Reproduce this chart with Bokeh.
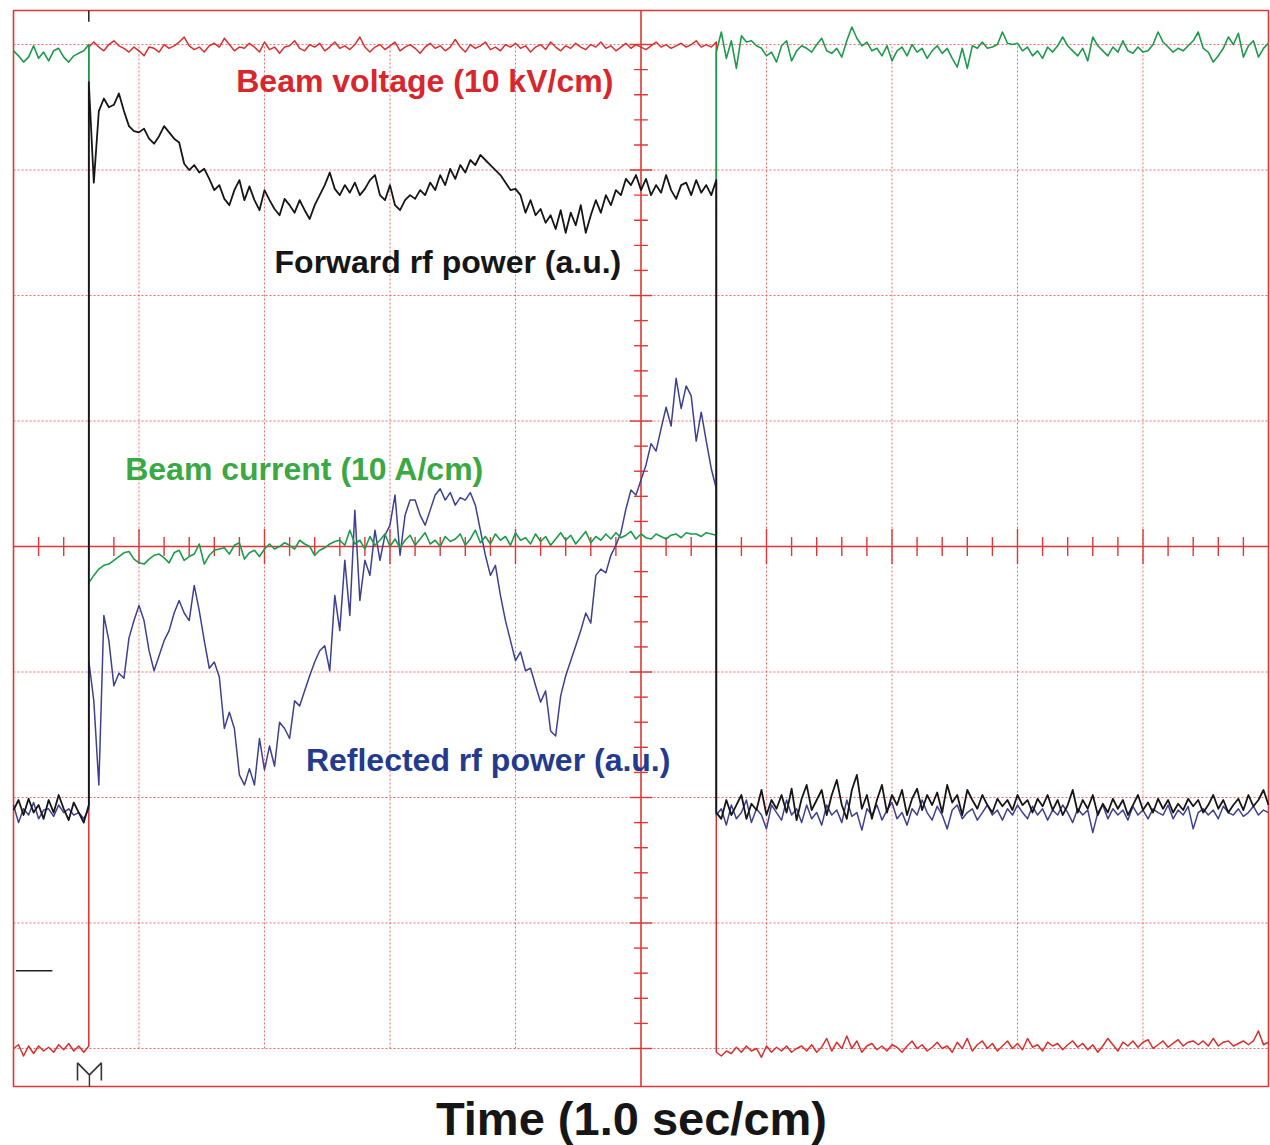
import numpy as np
from bokeh.plotting import figure
from bokeh.models import Range1d, Label
from bokeh.embed import file_html
from bokeh.resources import INLINE

# ---------------- data (time in s = cm, amplitude in screen divisions = cm) ----------------
DT = 0.04          # sampling step of the traces (s)
T_START = 0.0
T_ON = 0.60        # pulse start (s)
T_OFF = 5.60       # pulse end (s)

# Beam voltage (red)
voltage_pre = [0.00, 0.03, -0.06, 0.02, -0.04, 0.02, -0.02, 0.01, -0.03, 0.03, -0.01, 0.04, -0.02, 0.02, -0.03, 0.02]
voltage_pulse = [
    7.98, 8.02, 7.98, 7.95, 8.00, 8.03, 7.99, 7.97, 7.94, 7.98,
    7.95, 7.91, 7.98, 7.97, 7.94, 8.00, 7.97, 7.99, 8.02, 8.06,
    7.99, 7.96, 7.98, 7.94, 7.99, 8.01, 7.98, 8.05, 8.00, 7.95,
    7.98, 7.97, 8.01, 7.98, 7.94, 8.02, 7.96, 7.98, 7.93, 7.98,
    7.99, 8.03, 7.97, 7.95, 8.00, 7.98, 8.01, 7.95, 7.98, 8.02,
    7.97, 7.99, 7.96, 8.00, 8.06, 7.98, 7.94, 7.98, 8.00, 7.96,
    7.99, 8.02, 7.95, 7.98, 8.00, 7.97, 7.93, 7.98, 8.01, 7.97,
    7.99, 7.95, 7.98, 8.04, 7.98, 7.94, 8.00, 7.97, 7.99, 8.02,
    7.96, 7.98, 7.95, 8.00, 7.98, 8.01, 7.97, 7.99, 7.94, 7.98,
    8.00, 7.96, 8.02, 7.98, 7.95, 7.99, 7.97, 8.01, 7.98, 7.96,
    8.00, 7.98, 8.02, 7.97, 7.99, 7.95, 7.98, 8.01, 7.97, 8.00,
    7.98, 7.96, 7.99, 8.02, 7.98, 8.00, 7.97, 7.99, 8.01, 7.98,
    8.00, 8.03, 7.98, 8.00, 7.98, 8.02]
voltage_post = [
    -0.03, -0.06, -0.02, -0.04, 0.01, -0.03, 0.02, -0.02, 0.00, -0.07,
    0.02, -0.03, 0.01, -0.02, 0.02, -0.03, 0.00, 0.02, -0.02, 0.03,
    -0.03, 0.01, 0.08, -0.02, 0.05, 0.00, 0.10, 0.00, 0.06, -0.03,
    0.02, 0.04, -0.01, 0.02, -0.02, 0.03, 0.01, -0.03, 0.02, 0.06,
    0.00, 0.03, -0.02, 0.01, 0.05, 0.00, 0.02, -0.03, 0.05, 0.00,
    0.08, -0.02, 0.03, 0.06, 0.00, 0.04, -0.02, 0.02, 0.06, 0.00,
    0.04, -0.01, 0.08, 0.01, 0.03, -0.02, 0.05, 0.02, 0.04, -0.01,
    0.03, 0.06, 0.01, 0.04, -0.01, 0.03, -0.03, 0.02, 0.08, 0.03,
    -0.02, 0.05, 0.02, 0.06, 0.01, 0.05, 0.07, 0.00, 0.03, 0.06,
    0.01, 0.04, 0.07, 0.02, 0.05, 0.06, 0.03, 0.06, 0.02, 0.08,
    0.02, 0.05, 0.06, 0.02, 0.04, 0.06, 0.03, 0.06, 0.14, 0.03,
    0.05]

# Beam current (green)
current_pre = [7.95, 7.91, 7.86, 7.90, 7.99, 7.89, 7.94, 7.87, 7.95, 7.97, 7.90, 7.86, 7.91, 7.93, 7.95, 8.00]
current_pulse = [
    3.71, 3.77, 3.82, 3.85, 3.86, 3.89, 3.92, 3.95, 3.96, 3.90,
    3.87, 3.86, 3.90, 3.93, 3.94, 3.91, 3.87, 3.95, 3.97, 3.89,
    3.92, 3.94, 4.02, 3.86, 3.93, 3.97, 3.98, 3.99, 3.94, 4.01,
    4.03, 3.90, 3.95, 3.97, 3.92, 3.98, 4.02, 3.98, 4.00, 4.03,
    4.01, 3.98, 4.05, 4.02, 4.00, 3.93, 3.97, 3.99, 4.02, 4.04,
    4.05, 4.01, 4.13, 4.02, 4.05, 3.98, 4.08, 4.01, 4.05, 4.10,
    4.00, 4.06, 3.99, 4.05, 4.09, 4.01, 4.06, 4.11, 4.02, 4.05,
    4.00, 4.08, 4.04, 4.06, 4.10, 4.01, 4.06, 4.13, 4.03, 4.08,
    4.02, 4.10, 4.05, 4.08, 4.01, 4.11, 4.05, 4.07, 4.02, 4.10,
    4.04, 4.08, 4.01, 4.06, 4.11, 4.05, 4.09, 4.02, 4.07, 4.12,
    4.03, 4.08, 4.05, 4.10, 4.06, 4.11, 4.07, 4.09, 4.12, 4.06,
    4.10, 4.07, 4.06, 4.10, 4.08, 4.06, 4.09, 4.10, 4.07, 4.11,
    4.10, 4.10, 4.08, 4.11, 4.10, 4.09]
current_post = [
    7.94, 8.10, 7.89, 8.03, 7.81, 8.07, 8.02, 8.03, 7.99, 7.97,
    7.91, 7.94, 7.86, 7.99, 8.03, 7.87, 7.95, 7.99, 7.97, 7.94,
    8.00, 8.05, 7.95, 7.93, 7.97, 7.90, 8.03, 8.14, 8.05, 7.99,
    8.02, 7.95, 7.97, 7.91, 7.99, 7.87, 7.95, 7.98, 7.91, 8.00,
    7.94, 7.97, 7.89, 7.95, 7.99, 7.93, 7.97, 7.89, 7.82, 7.97,
    7.81, 7.99, 7.97, 8.02, 7.97, 7.98, 8.00, 8.10, 8.01, 8.00,
    8.01, 7.95, 7.98, 7.91, 7.95, 7.89, 7.98, 7.94, 7.99, 8.06,
    7.99, 7.95, 7.91, 7.97, 7.87, 8.06, 7.99, 7.95, 7.91, 7.98,
    7.94, 8.03, 7.95, 7.93, 7.98, 7.94, 7.95, 8.00, 8.10, 8.02,
    7.98, 7.94, 7.97, 7.95, 7.99, 8.03, 8.10, 7.97, 7.94, 7.86,
    7.91, 7.97, 8.06, 8.00, 8.09, 7.90, 7.99, 8.03, 7.90, 7.97,
    8.01]

# Forward rf power (black)
forward_pre = [1.90, 1.98, 1.86, 1.99, 1.88, 1.94, 1.83, 1.98, 1.88, 2.02, 1.91, 1.82, 1.96, 1.88, 1.80, 1.94]
forward_pulse = [
    7.70, 6.90, 7.47, 7.57, 7.50, 7.52, 7.61, 7.47, 7.35, 7.31,
    7.30, 7.33, 7.25, 7.21, 7.27, 7.35, 7.30, 7.25, 7.22, 7.05,
    7.00, 7.04, 6.98, 7.01, 6.93, 6.84, 6.88, 6.77, 6.72, 6.84,
    6.92, 6.76, 6.87, 6.76, 6.68, 6.84, 6.76, 6.69, 6.64, 6.77,
    6.72, 6.66, 6.76, 6.68, 6.61, 6.72, 6.80, 6.88, 6.98, 6.85,
    6.80, 6.88, 6.82, 6.90, 6.80, 6.85, 6.92, 6.96, 6.80, 6.76,
    6.88, 6.72, 6.68, 6.76, 6.80, 6.77, 6.84, 6.80, 6.90, 6.84,
    6.96, 6.88, 7.01, 6.93, 7.04, 6.98, 7.08, 7.04, 7.12, 7.08,
    7.04, 7.00, 6.96, 6.90, 6.84, 6.85, 6.80, 6.66, 6.76, 6.64,
    6.69, 6.58, 6.64, 6.53, 6.68, 6.50, 6.66, 6.56, 6.72, 6.50,
    6.64, 6.76, 6.66, 6.80, 6.72, 6.84, 6.80, 6.93, 6.88, 6.96,
    6.84, 6.93, 6.80, 6.88, 6.82, 6.96, 6.84, 6.77, 6.88, 6.90,
    6.80, 6.92, 6.82, 6.88, 6.80, 6.92]
forward_post = [
    1.88, 1.83, 1.98, 1.86, 1.94, 2.02, 1.83, 1.95, 1.90, 2.06,
    1.86, 1.98, 1.91, 2.02, 1.88, 2.07, 1.82, 1.99, 2.10, 1.90,
    1.98, 2.06, 1.86, 2.02, 2.14, 1.94, 1.83, 2.06, 2.18, 1.91,
    2.02, 1.83, 1.98, 2.10, 1.88, 2.02, 1.94, 2.06, 1.86, 1.99,
    2.07, 1.90, 2.02, 1.94, 2.04, 1.88, 2.10, 1.96, 2.02, 1.86,
    2.06, 1.98, 1.91, 2.02, 1.94, 1.88, 1.99, 1.93, 1.98, 1.90,
    2.02, 1.94, 1.98, 1.88, 1.99, 1.93, 2.02, 1.90, 1.98, 1.86,
    1.94, 2.06, 1.88, 1.98, 1.91, 2.02, 1.86, 1.95, 1.88, 1.99,
    1.91, 1.98, 1.86, 1.94, 2.02, 1.90, 1.96, 1.88, 1.99, 1.91,
    1.98, 1.88, 1.95, 1.90, 1.99, 1.93, 1.98, 1.88, 1.94, 2.02,
    1.91, 1.98, 1.88, 1.94, 1.99, 1.90, 2.02, 1.93, 1.98, 2.06,
    1.94]

# Reflected rf power (blue)
reflected_pre = [1.94, 1.80, 1.91, 1.86, 1.96, 1.83, 1.90, 1.91, 1.85, 1.94, 1.88, 1.91, 1.86, 1.88, 1.83, 1.91]
reflected_pulse = [
    3.09, 2.77, 2.10, 3.45, 3.25, 2.89, 2.99, 2.95, 3.27, 3.41,
    3.53, 3.41, 3.17, 3.01, 3.13, 3.25, 3.33, 3.47, 3.57, 3.47,
    3.41, 3.69, 3.49, 3.25, 3.03, 3.08, 2.96, 2.55, 2.68, 2.55,
    2.18, 2.10, 2.23, 2.10, 2.47, 2.22, 2.41, 2.25, 2.60, 2.55,
    2.47, 2.77, 2.73, 2.85, 2.97, 3.08, 3.17, 3.21, 3.01, 3.61,
    3.33, 3.89, 3.45, 4.29, 3.57, 3.89, 3.77, 4.13, 3.89, 4.09,
    4.17, 4.41, 3.93, 4.25, 4.37, 4.37, 4.25, 4.17, 4.29, 4.41,
    4.46, 4.37, 4.43, 4.33, 4.39, 4.37, 4.43, 4.33, 4.13, 3.93,
    3.77, 3.85, 3.61, 3.41, 3.25, 3.09, 3.16, 3.01, 3.03, 2.89,
    2.76, 2.85, 2.53, 2.49, 2.81, 2.97, 3.09, 3.21, 3.33, 3.47,
    3.39, 3.77, 3.82, 3.79, 3.93, 4.01, 4.11, 4.30, 4.45, 4.41,
    4.53, 4.65, 4.82, 4.76, 4.94, 5.11, 4.96, 5.34, 5.10, 5.28,
    5.20, 4.84, 5.07, 4.84, 4.62, 4.46]
reflected_post = [
    1.86, 1.91, 1.78, 1.94, 1.83, 1.88, 1.98, 1.80, 1.91, 1.86,
    1.75, 1.94, 1.88, 1.82, 1.98, 1.86, 1.91, 1.80, 1.94, 1.83,
    1.88, 1.78, 1.94, 1.86, 1.90, 1.80, 1.98, 1.85, 1.88, 1.74,
    1.91, 1.86, 1.94, 1.82, 1.90, 1.96, 1.83, 1.88, 1.78, 1.91,
    1.86, 1.98, 1.88, 1.82, 1.93, 1.86, 1.75, 1.90, 1.94, 1.83,
    1.88, 1.91, 1.82, 1.88, 1.94, 1.86, 1.90, 1.82, 1.91, 1.86,
    1.94, 1.88, 1.83, 1.93, 1.86, 1.91, 1.82, 1.90, 1.86, 1.94,
    1.88, 1.80, 1.91, 1.86, 1.90, 1.72, 1.88, 1.94, 1.83, 1.91,
    1.86, 1.90, 1.82, 1.93, 1.86, 1.90, 1.83, 1.91, 1.88, 1.86,
    1.94, 1.83, 1.90, 1.86, 1.93, 1.75, 1.88, 1.91, 1.86, 1.90,
    1.83, 1.93, 1.88, 1.86, 1.91, 1.85, 1.88, 1.93, 1.86, 1.90,
    1.88]

LABELS = {
    "voltage": "Beam voltage (10 kV/cm)",
    "forward": "Forward rf power (a.u.)",
    "current": "Beam current (10 A/cm)",
    "reflected": "Reflected rf power (a.u.)",
}
X_TITLE = "Time (1.0 sec/cm)"

# ---------------- helpers ----------------
def trace(pre, pulse, post):
    t = np.concatenate([T_START + DT * np.arange(len(pre)),
                        T_ON + DT * np.arange(len(pulse)),
                        T_OFF + DT * np.arange(len(post))])
    v = np.concatenate([pre, pulse, post])
    return t, v

GRID = "#e8474a"
FRAME = "#e03636"
FONT = "Liberation Sans"

# screen frame (graticule box) extents, in divisions
BOX_LO, BOX_HI = -0.303, 8.271

p = figure(width=1270, height=1145,
           x_range=Range1d(-0.1036, 10.016), y_range=Range1d(-0.773, 8.351),
           output_backend="svg", toolbar_location=None, x_axis_type=None, y_axis_type=None,
           min_border_left=0, min_border_right=0, min_border_top=0, min_border_bottom=0)
p.outline_line_color = None
p.background_fill_color = "white"
p.border_fill_color = "white"

# outer frame
p.quad(left=[0], right=[10], bottom=[BOX_LO], top=[BOX_HI], fill_color=None,
       line_color=FRAME, line_width=1.6)

# graticule: dotted lines
vx = [1, 2, 3, 4, 6, 7, 8, 9]
p.segment(x0=vx, y0=[0] * len(vx), x1=vx, y1=[8] * len(vx),
          line_color=GRID, line_width=1, line_dash="2 2", line_alpha=0.8)
hy = [0, 1, 2, 3, 5, 6, 7, 8]
p.segment(x0=[0] * len(hy), y0=hy, x1=[10] * len(hy), y1=hy,
          line_color=GRID, line_width=1, line_dash="2 2", line_alpha=0.8)
# centre lines
p.segment(x0=[5], y0=[BOX_LO], x1=[5], y1=[BOX_HI], line_color=FRAME, line_width=1.6)
p.segment(x0=[0], y0=[4], x1=[10], y1=[4], line_color=FRAME, line_width=1.6)
# ticks on centre lines
xt = np.round(np.arange(0, 10.001, 0.2), 2)
xt = xt[(xt > 0) & (xt < 10) & (np.abs(xt - 5) > 1e-6)]
hx = np.where(np.isclose(xt, np.round(xt)), 0.14, 0.075)
p.segment(x0=xt, y0=4 - hx, x1=xt, y1=4 + hx, line_color=FRAME, line_width=1.4)
yt = np.round(np.arange(0, 8.001, 0.2), 2)
yt = yt[np.abs(yt - 4) > 1e-6]
hw = np.where(np.isclose(yt, np.round(yt)), 0.09, 0.055)
p.segment(x0=5 - hw, y0=yt, x1=5 + hw, y1=yt, line_color=FRAME, line_width=1.4)

# markers
p.segment(x0=[T_ON], y0=[BOX_HI], x1=[T_ON], y1=[BOX_HI - 0.09], line_color="#222222", line_width=1.5)
p.line([0.51, 0.51, 0.605, 0.70, 0.70], [-0.255, -0.115, -0.21, -0.115, -0.255],
       line_color="#333333", line_width=1.6)
p.segment(x0=[0.605], y0=[-0.21], x1=[0.605], y1=[BOX_LO], line_color="#333333", line_width=1.4)
p.segment(x0=[0.02], y0=[0.62], x1=[0.31], y1=[0.62], line_color="#222222", line_width=1.6)

# traces (red underneath, black on top, as in the scan)
tr, vr = trace(voltage_pre, voltage_pulse, voltage_post)
p.line(tr, vr, line_color="#d8302e", line_width=1.5, line_join="round")
tb, vb = trace(reflected_pre, reflected_pulse, reflected_post)
p.line(tb, vb, line_color="#3d4190", line_width=1.5, line_join="round")
tg, vg = trace(current_pre, current_pulse, current_post)
p.line(tg, vg, line_color="#1e9a4c", line_width=1.6, line_join="round")
tf, vf = trace(forward_pre, forward_pulse, forward_post)
p.line(tf, vf, line_color="#161616", line_width=1.8, line_join="round")

# labels
def lab(x, y, text, color, size="32px", align="left"):
    p.add_layout(Label(x=x, y=y, text=text, text_color=color, text_font=FONT,
                       text_font_size=size, text_font_style="bold",
                       text_align=align, text_baseline="middle"))

lab(1.775, 7.71, LABELS["voltage"], "#d7262c")
lab(2.08, 6.27, LABELS["forward"], "#161616")
lab(0.89, 4.62, LABELS["current"], "#3aa843")
lab(2.33, 2.30, LABELS["reflected"], "#243a8e")
lab(4.924, -0.56, X_TITLE, "#161616", size="47px", align="center")

open("out.html", "w").write(file_html(p, INLINE))
